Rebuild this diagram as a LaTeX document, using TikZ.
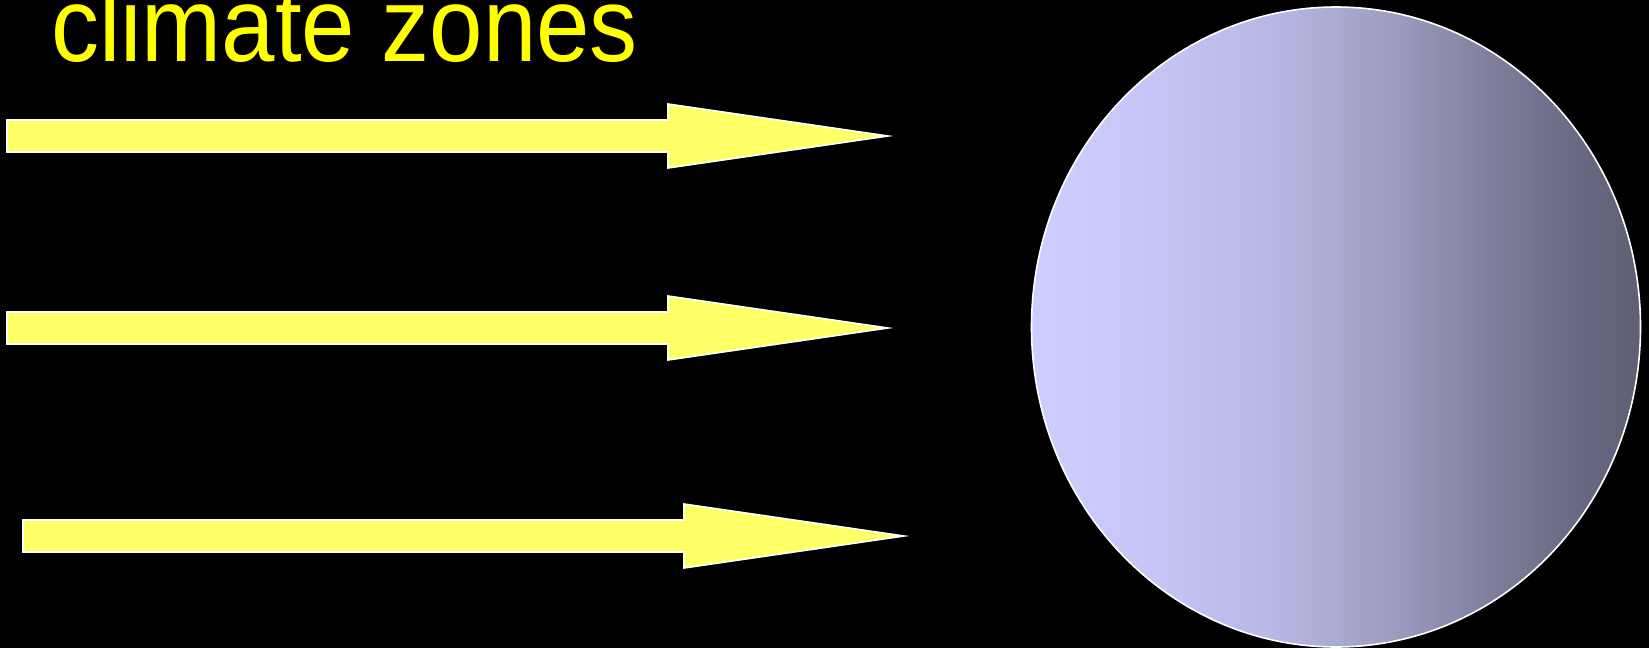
\documentclass[tikz,border=0pt]{standalone}
\usepackage{fontspec}
\setmainfont{Liberation Sans}
\definecolor{rayyellow}{RGB}{255,255,102}
\definecolor{titleyellow}{RGB}{255,255,0}
\definecolor{gA}{RGB}{205,205,255}
\definecolor{gB}{RGB}{198,198,246}
\definecolor{gC}{RGB}{183,183,228}
\definecolor{gD}{RGB}{170,170,210}
\definecolor{gE}{RGB}{155,155,190}
\definecolor{gF}{RGB}{127,127,157}
\definecolor{gG}{RGB}{104,104,130}
\definecolor{gH}{RGB}{94,94,116}
\pgfdeclarehorizontalshading{globeshade}{100bp}{color(0bp)=(gA); color(25bp)=(gA); color(35bp)=(gB); color(45bp)=(gC); color(50bp)=(gD); color(55bp)=(gE); color(62.5bp)=(gF); color(70bp)=(gG); color(75bp)=(gH); color(100bp)=(gH)}
\begin{document}
\begin{tikzpicture}[x=1pt,y=-1pt,
  rayarrow/.style={fill=rayyellow, draw=white, line width=1.6pt, line join=miter},
  globe/.style={draw=white, line width=1.6pt, shading=globeshade, shading angle=0}]
\fill[black] (0,0) rectangle (1649,648);
\useasboundingbox (0,0) rectangle (1649,648);
\node[anchor=base west, inner sep=0pt, text=titleyellow, font=\fontsize{96}{100}\selectfont] (title) at (51,61) {\scalebox{1}[1.1]{climate zones}};
\draw[rayarrow] (7,120) -- (668,120) -- (668,104) -- (888,136) -- (668,168) -- (668,152) -- (7,152) -- cycle;
\draw[rayarrow] (7,312) -- (668,312) -- (668,296) -- (888,328) -- (668,360) -- (668,344) -- (7,344) -- cycle;
\draw[rayarrow] (23,520) -- (684,520) -- (684,504) -- (904,536) -- (684,568) -- (684,552) -- (23,552) -- cycle;
\draw[globe] (1336,327) ellipse [x radius=304.5pt, y radius=320pt];
\end{tikzpicture}
\end{document}
